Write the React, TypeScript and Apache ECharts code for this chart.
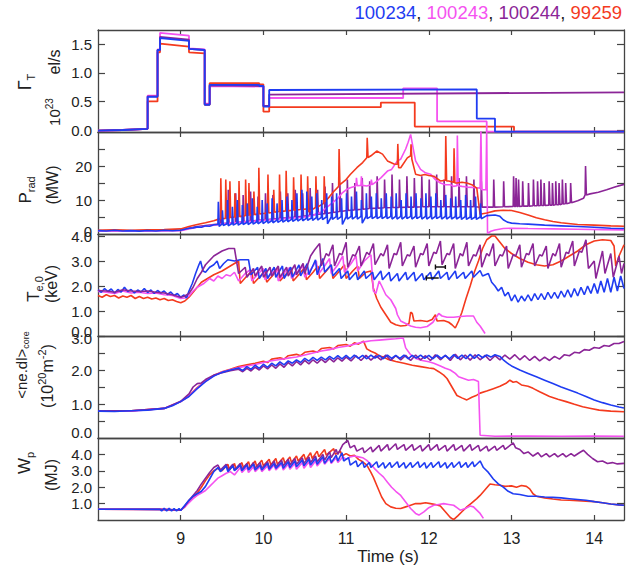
import React, { useEffect, useRef } from "react";
import * as echarts from "echarts";

type P = [number, number];

const FONT = "Liberation Sans, Arial, Helvetica, sans-serif";
const BLUE = "#1f3cf2";
const MAGENTA = "#f552f0";
const PURPLE = "#8b2597";
const RED = "#f43a1e";

const shotLabels = ["100234", "100243", "100244", "99259"];
const xTickValues = [9, 10, 11, 12, 13, 14];

// ---------- Panel 1: Gamma_T (10^23 el/s) ----------
const gammaBlue: P[] = [[8,-0.01],[8.3,0.0],[8.6,0.02],[8.6,0.58],[8.72,0.58],[8.72,1.4],[8.75,1.4],[8.75,1.61],[9.1,1.56],[9.1,1.42],[9.29,1.4],[9.29,0.44],[9.35,0.44],[9.35,0.79],[9.95,0.79],[9.95,0.77],[10.0,0.77],[10.0,0.41],[10.07,0.41],[10.07,0.7],[12.58,0.71],[12.58,0.2],[12.8,0.2],[12.8,-0.03],[14.36,-0.03]];
const gammaMagenta: P[] = [[8,-0.01],[8.3,0.0],[8.6,0.02],[8.6,0.6],[8.72,0.6],[8.72,1.41],[8.75,1.41],[8.75,1.7],[9.1,1.65],[9.1,1.43],[9.29,1.41],[9.29,0.46],[9.35,0.46],[9.35,0.77],[10.0,0.76],[10.0,0.42],[10.07,0.42],[10.07,0.56],[11.69,0.56],[11.69,0.73],[12.1,0.73],[12.1,0.15],[12.7,0.15],[12.7,-0.03],[14.36,-0.03]];
const gammaPurple: P[] = [[8,-0.01],[8.3,0.0],[8.6,0.02],[8.6,0.59],[8.72,0.59],[8.72,1.4],[8.75,1.4],[8.75,1.63],[9.1,1.58],[9.1,1.42],[9.29,1.4],[9.29,0.45],[9.35,0.45],[9.35,0.78],[10.0,0.77],[10.0,0.42],[10.07,0.42],[10.07,0.62],[14.36,0.66]];
const gammaRed: P[] = [[8,-0.01],[8.3,0.0],[8.6,0.02],[8.6,0.5],[8.72,0.5],[8.72,1.36],[8.75,1.36],[8.75,1.51],[9.1,1.46],[9.1,1.36],[9.29,1.34],[9.29,0.44],[9.35,0.44],[9.35,0.82],[9.95,0.82],[9.95,0.8],[10.0,0.8],[10.0,0.32],[10.07,0.32],[10.07,0.4],[11.42,0.4],[11.42,0.48],[11.83,0.48],[11.83,0.06],[13.03,0.06],[13.03,-0.03],[14.36,-0.03]];

// ---------- Panel 2: P_rad (MW) ----------
const pradBlue: P[] = [[8.0,1.0],[8.1,0.9],[8.2,1.1],[8.3,0.9],[8.4,1.0],[8.5,0.85],[8.6,1.05],[8.7,0.9],[8.8,1.1],[8.9,0.95],[9.0,1.1],[9.05,1.4],[9.1,1.7],[9.15,1.8],[9.2,2.1],[9.25,2.0],[9.3,2.4],[9.35,2.3],[9.4,2.7],
[9.45,2.8],[9.455,9.5],[9.465,2.2],[9.5,3.0],[9.505,7.0],[9.515,2.5],[9.56,3.0],[9.565,10],[9.575,2.4],[9.62,3.1],[9.625,8],[9.635,2.6],[9.68,3.2],[9.685,10],[9.695,2.6],[9.74,3.3],[9.745,8.5],[9.755,2.8],[9.8,3.4],[9.805,9],[9.815,2.8],[9.86,3.5],[9.865,10.5],[9.875,2.9],[9.92,3.6],[9.925,8],[9.935,3.0],[9.98,3.7],[9.985,10],[9.995,3.1],
[10.04,3.8],[10.045,9],[10.055,3.2],[10.1,3.9],[10.105,10.5],[10.115,3.3],[10.16,4.0],[10.165,9],[10.175,3.4],[10.22,4.1],[10.225,10],[10.235,3.5],[10.28,4.2],[10.285,11],[10.295,3.6],[10.34,4.3],[10.345,10],[10.355,3.7],[10.4,4.4],[10.405,12],[10.415,3.8],[10.46,4.5],[10.465,13],[10.475,3.9],[10.52,4.6],[10.525,12.5],[10.535,4.0],[10.58,4.7],[10.585,11],[10.595,4.0],[10.64,4.8],[10.645,12],[10.655,4.1],[10.7,4.9],[10.705,10],[10.715,4.2],[10.76,5.0],[10.765,12],[10.775,3.0],[10.82,5.0],[10.825,11],[10.835,4.3],[10.88,5.1],[10.885,12],[10.895,4.3],[10.94,5.1],[10.945,10.5],[10.955,2.8],
[11.0,5.1],[11.005,12],[11.015,4.4],[11.06,5.2],[11.065,11],[11.075,4.4],[11.12,5.2],[11.125,12.5],[11.135,4.4],[11.18,5.2],[11.185,10],[11.195,3.2],[11.24,5.2],[11.245,12],[11.255,4.5],[11.3,5.2],[11.305,11],[11.315,4.5],[11.36,5.2],[11.365,12],[11.375,4.5],[11.42,5.2],[11.425,10.5],[11.435,4.5],[11.48,5.2],[11.485,12],[11.495,4.5],[11.54,5.2],[11.545,11],[11.555,4.4],[11.6,5.2],[11.605,12],[11.615,4.4],[11.66,5.2],[11.665,10],[11.675,4.4],[11.72,5.2],[11.725,12],[11.735,4.5],[11.78,5.2],[11.785,11],[11.795,4.4],[11.84,5.2],[11.845,12],[11.855,4.5],[11.9,5.2],[11.905,10.5],[11.915,4.4],[11.96,5.2],[11.965,12],[11.975,4.4],
[12.02,5.2],[12.025,11],[12.035,4.4],[12.08,5.2],[12.085,12],[12.095,4.5],[12.14,5.2],[12.145,10],[12.155,4.4],[12.2,5.2],[12.205,11.5],[12.215,4.4],[12.26,5.2],[12.265,10.5],[12.275,4.4],[12.32,5.1],[12.325,11],[12.335,4.4],[12.38,5.1],[12.385,10],[12.395,4.3],[12.44,5.1],[12.445,11.5],[12.455,4.3],[12.5,5.0],[12.505,10],[12.515,4.3],[12.56,5.0],[12.565,11],[12.575,4.3],[12.62,5.0],[12.625,9],[12.635,4.5],
[12.7,5.4],[12.8,5.6],[12.86,5.2],[12.9,4.2],[12.95,3.5],[13.0,3.2],[13.1,3.0],[13.2,2.9],[13.4,2.6],[13.6,2.4],[13.8,2.2],[14.0,2.0],[14.2,1.7],[14.36,1.6]];

const pradPurple: P[] = [[8.0,1.0],[8.2,1.0],[8.4,0.95],[8.6,1.0],[8.8,1.05],[9.0,1.1],[9.1,1.7],[9.2,2.2],[9.3,2.5],[9.4,2.8],
[9.48,3.0],[9.485,11],[9.495,3.0],[9.57,3.2],[9.575,13],[9.585,3.2],[9.66,3.4],[9.665,12],[9.675,3.4],[9.75,3.6],[9.755,11.5],[9.765,3.6],[9.84,3.8],[9.845,12.5],[9.855,3.8],[9.93,4.0],[9.935,11],[9.945,4.0],[10.02,4.2],[10.025,12],[10.035,4.2],[10.11,4.4],[10.115,11.5],[10.125,4.4],[10.2,4.6],[10.205,12.5],[10.215,4.6],[10.29,4.8],[10.295,12],[10.305,4.8],[10.38,5.0],[10.385,13],[10.395,5.0],[10.47,5.2],[10.475,12],[10.485,5.2],[10.56,5.5],[10.565,13.5],[10.575,5.5],[10.65,5.8],[10.655,13],[10.665,5.8],[10.74,6.0],[10.745,14],[10.755,6.0],[10.83,6.3],[10.835,15],[10.845,6.3],[10.92,6.6],[10.925,14.5],[10.935,6.6],
[11.01,6.9],[11.015,16],[11.025,6.9],[11.1,7.1],[11.105,15],[11.115,7.1],[11.19,7.3],[11.195,16.5],[11.205,7.3],[11.28,7.5],[11.285,15.5],[11.295,7.5],[11.37,7.6],[11.375,17],[11.385,7.6],[11.46,7.7],[11.465,16],[11.475,7.7],[11.55,7.8],[11.555,17.5],[11.565,7.8],[11.64,7.8],[11.645,16],[11.655,7.8],[11.73,7.9],[11.735,17],[11.745,7.9],[11.82,7.9],[11.825,16.5],[11.835,7.9],[11.91,8.0],[11.915,17],[11.925,8.0],
[12.0,8.0],[12.005,16],[12.015,8.0],[12.09,8.0],[12.095,17.5],[12.105,8.0],[12.18,8.0],[12.185,16],[12.195,8.0],[12.27,8.0],[12.275,17],[12.285,8.0],[12.36,8.0],[12.365,16.5],[12.375,8.0],[12.45,8.0],[12.455,17],[12.465,8.0],[12.54,8.0],[12.545,16],[12.555,8.0],[12.63,7.9],[12.635,15.5],[12.645,7.9],[12.78,7.9],[12.785,16],[12.795,7.9],[12.9,8.0],[12.905,15.5],[12.915,8.0],
[13.02,8.1],[13.025,17],[13.035,8.1],[13.05,8.1],[13.055,16.5],[13.065,8.1],[13.08,8.1],[13.085,16],[13.095,8.1],[13.13,8.2],[13.135,15.5],[13.145,8.2],[13.2,8.2],[13.205,15],[13.215,8.2],[13.26,8.3],[13.265,16],[13.275,8.3],[13.31,8.3],[13.315,15.5],[13.325,8.3],[13.35,8.4],[13.355,16],[13.365,8.4],[13.39,8.4],[13.395,15],[13.405,8.4],[13.45,8.5],[13.455,15.5],[13.465,8.5],[13.49,8.5],[13.495,15],[13.505,8.5],[13.53,8.6],[13.535,15.5],[13.545,8.6],[13.57,8.6],[13.575,15],[13.585,8.6],[13.61,8.8],[13.615,16],[13.625,8.8],[13.65,8.9],[13.655,15],[13.665,8.9],[13.71,9.2],[13.715,15],[13.725,9.2],
[13.8,9.8],[13.87,10.5],[13.89,11.5],[13.895,20],[13.905,11.5],[13.95,11.8],[14.05,12.3],[14.15,13.0],[14.25,13.8],[14.36,14.6]];

const pradRed: P[] = [[8.0,1.1],[8.2,1.2],[8.4,1.1],[8.6,1.2],[8.8,1.3],[9.0,1.5],[9.1,2.2],[9.2,2.8],[9.3,3.3],[9.4,3.9],[9.45,4.3],
[9.48,4.5],[9.485,16.4],[9.495,4.5],[9.54,4.6],[9.545,16],[9.555,4.6],[9.59,4.8],[9.595,15.5],[9.605,4.8],[9.65,5.0],[9.655,12],[9.665,5.0],[9.7,5.1],[9.705,15.6],[9.715,5.1],[9.78,5.4],[9.785,16],[9.795,5.4],[9.82,5.5],[9.825,15],[9.835,5.5],[9.88,5.7],[9.885,12.5],[9.895,5.7],[9.94,5.9],[9.945,19.5],[9.955,5.9],
[10.05,6.2],[10.055,17.5],[10.065,6.2],[10.12,6.4],[10.125,13],[10.135,6.4],[10.19,6.6],[10.195,17.5],[10.205,6.6],[10.27,6.8],[10.275,18.6],[10.285,6.8],[10.36,7.0],[10.365,16.7],[10.375,7.0],[10.45,7.2],[10.455,17.5],[10.465,7.2],[10.53,7.4],[10.535,17],[10.545,6.5],[10.63,7.8],[10.635,17],[10.645,7.8],[10.73,9.0],[10.735,17],[10.745,9.5],[10.8,11],[10.85,12.5],[10.91,14],[10.915,25],[10.925,14.5],
[11.0,16],[11.05,17.5],[11.13,19.5],[11.2,21],[11.25,22.4],[11.255,28.3],[11.265,22.5],[11.3,23],[11.37,24.4],[11.44,23.5],[11.5,21.5],[11.58,20.6],[11.62,20.5],[11.625,26.5],[11.635,19.5],[11.66,19.5],[11.74,22.4],[11.78,23],[11.785,26.4],[11.795,22],[11.84,17.6],[11.9,17.2],[11.95,17.5],
[12.0,17.2],[12.06,17],[12.14,15.6],[12.2,15.8],[12.205,28.8],[12.215,15.6],[12.24,15.6],[12.3,15.2],[12.305,25.2],[12.315,15],[12.34,15],[12.4,15.2],[12.46,15],[12.52,14.5],[12.58,13.5],[12.62,5.8],[12.7,6.2],[12.8,6.8],[12.9,7.0],[13.0,6.9],[13.1,6.3],[13.2,5.6],[13.3,4.8],[13.4,4.2],[13.5,3.7],[13.6,3.3],[13.8,2.8],[14.0,2.6],[14.2,2.4],[14.36,2.3]];

const pradMagenta: P[] = [[8.0,0.9],[8.3,0.95],[8.6,0.9],[9.0,1.0],[9.1,1.5],[9.2,2.0],[9.3,2.3],[9.4,2.6],[9.5,2.9],[9.6,3.2],[9.7,3.4],[9.8,3.6],[9.9,3.8],[10.0,4.0],[10.1,4.2],[10.2,4.4],[10.3,4.6],[10.4,4.8],[10.5,5.0],[10.6,5.5],[10.7,6.5],[10.8,8.5],[10.9,10.5],[10.95,12],[11.0,13],[11.05,13.6],[11.1,14],[11.12,14.2],[11.125,16.5],[11.135,14.2],[11.18,14.3],[11.185,17],[11.195,14.3],[11.25,14.1],[11.3,14.5],[11.305,16],[11.315,14.5],[11.37,15.5],[11.42,16.5],[11.5,18.5],[11.55,19],[11.62,21.5],[11.66,22],[11.72,25],[11.75,27],[11.78,29.3],[11.82,24],[11.84,21.5],[11.9,19],[11.96,18],
[12.02,17.6],[12.08,16],[12.14,15],[12.2,14.5],[12.26,14.5],[12.3,14],[12.34,14.2],[12.345,29],[12.355,14.2],[12.4,14],[12.46,13.8],[12.52,13.7],[12.58,13.6],[12.62,13.5],[12.63,31],[12.64,13],[12.69,13],[12.7,31],[12.71,0.2],[12.75,0.8],[12.8,1.2],[12.9,1.6],[13.0,1.7],[13.2,1.6],[13.5,1.5],[13.8,1.4],[14.1,1.3],[14.36,1.2]];

// ---------- Panel 3: T_e,0 (keV) ----------
const teBlue: P[] = [[8.0,1.85],[8.04,1.75],[8.08,1.9],[8.12,1.78],[8.16,1.88],[8.2,1.72],[8.24,1.86],[8.28,1.76],[8.32,1.95],[8.36,1.78],[8.4,1.86],[8.44,1.72],[8.48,1.84],[8.52,1.76],[8.56,1.9],[8.6,1.74],[8.64,1.84],[8.68,1.7],[8.72,1.82],[8.76,1.72],[8.8,1.8],[8.84,1.66],[8.88,1.76],[8.92,1.62],[8.96,1.7],[9.0,1.55],[9.04,1.64],[9.07,1.52],[9.1,1.8],[9.14,2.1],[9.18,2.5],[9.22,2.85],[9.24,3.0],[9.27,2.6],[9.3,2.55],[9.35,2.75],[9.4,2.85],[9.44,3.0],[9.47,2.7],[9.52,2.9],[9.57,3.05],[9.65,3.0],[9.72,3.05],[9.82,3.05],[9.85,2.45],
[9.93,2.75],[9.95,2.3],[10.03,2.7],[10.05,2.3],[10.13,2.75],[10.15,2.35],[10.23,2.8],[10.25,2.3],[10.33,2.75],[10.35,2.35],[10.43,2.85],[10.45,2.4],[10.53,2.9],[10.55,2.45],[10.63,3.05],[10.65,2.45],[10.72,3.1],[10.74,2.55],[10.82,2.85],[10.84,2.4],[10.92,2.7],[10.94,2.3],
[11.02,2.6],[11.04,2.25],[11.12,2.55],[11.14,2.25],[11.22,2.6],[11.24,2.3],[11.32,2.55],[11.34,2.25],[11.42,2.6],[11.44,2.25],[11.52,2.55],[11.54,2.2],[11.62,2.5],[11.64,2.2],[11.72,2.55],[11.74,2.25],[11.82,2.55],[11.84,2.2],[11.92,2.5],[11.94,2.25],[12.02,2.55],[12.04,2.25],[12.12,2.6],[12.14,2.3],[12.22,2.55],[12.24,2.25],[12.32,2.6],[12.34,2.3],[12.42,2.55],[12.44,2.3],[12.52,2.6],[12.54,2.35],[12.62,2.62],[12.65,2.4],
[12.72,2.5],[12.76,2.15],[12.8,2.0],[12.84,1.8],[12.88,1.95],[12.92,1.6],[12.96,1.75],[13.0,1.4],[13.04,1.65],[13.08,1.35],[13.12,1.6],[13.16,1.4],[13.2,1.65],[13.24,1.4],[13.28,1.7],[13.32,1.45],[13.36,1.7],[13.4,1.45],[13.44,1.75],[13.48,1.5],[13.52,1.75],[13.56,1.5],[13.6,1.8],[13.64,1.55],[13.68,1.85],[13.72,1.55],[13.76,1.9],[13.8,1.6],[13.84,1.95],[13.88,1.65],[13.92,2.0],[13.96,1.7],[14.0,2.1],[14.04,1.7],[14.08,2.2],[14.12,1.75],[14.16,2.3],[14.2,1.75],[14.24,2.35],[14.28,1.8],[14.32,2.4],[14.36,1.9]];

const tePurple: P[] = [[8.0,1.82],[8.1,1.8],[8.2,1.75],[8.3,1.85],[8.4,1.8],[8.5,1.78],[8.6,1.8],[8.7,1.75],[8.8,1.72],[8.9,1.65],[9.0,1.55],[9.05,1.6],[9.1,1.7],[9.15,1.95],[9.2,2.3],[9.25,2.55],[9.3,2.85],[9.4,3.2],[9.5,3.4],[9.58,3.5],[9.65,3.5],[9.7,2.5],
[9.78,2.75],[9.8,2.35],[9.88,2.7],[9.9,2.4],[9.98,2.8],[10.0,2.35],[10.08,2.75],[10.1,2.4],[10.18,2.8],[10.2,2.35],[10.28,2.75],[10.3,2.4],[10.38,2.85],[10.4,2.45],[10.48,2.9],[10.5,2.5],[10.57,3.2],[10.62,3.45],[10.68,3.7],[10.7,2.8],
[10.76,3.3],[10.79,3.2],[10.84,3.65],[10.86,2.8],[10.92,3.3],[10.95,3.25],[11.0,3.75],[11.02,2.75],[11.08,3.25],[11.11,3.2],[11.16,3.6],[11.18,2.8],[11.25,3.35],[11.28,3.25],[11.33,3.7],[11.35,2.85],[11.42,3.3],[11.45,3.2],[11.5,3.65],[11.52,2.7],[11.58,3.3],[11.61,3.25],[11.66,3.75],[11.68,2.8],[11.74,3.25],[11.77,3.2],[11.82,3.6],[11.84,2.75],[11.9,3.3],[11.93,3.25],[11.98,3.7],[12.0,2.8],[12.06,3.35],[12.09,3.3],[12.14,3.8],[12.16,2.85],[12.22,3.3],[12.25,3.25],[12.3,3.7],[12.32,2.7],[12.38,3.3],[12.41,3.2],[12.46,3.75],[12.48,2.8],[12.54,3.25],[12.57,3.2],[12.62,3.65],[12.64,2.75],[12.7,3.3],[12.73,3.2],[12.78,3.7],[12.8,2.8],[12.86,3.25],[12.89,3.2],[12.94,3.6],[12.96,2.7],[13.02,3.25],[13.05,3.2],[13.1,3.65],[13.12,2.75],[13.18,3.3],[13.21,3.25],[13.26,3.7],[13.28,2.8],[13.34,3.25],[13.37,3.2],[13.42,3.6],[13.44,2.7],[13.5,3.3],[13.53,3.2],[13.58,3.7],[13.6,2.75],[13.66,3.35],[13.69,3.3],[13.74,3.8],[13.76,2.8],[13.82,3.4],[13.85,3.35],[13.9,3.85],[13.93,2.7],
[14.0,3.0],[14.02,2.3],[14.1,3.4],[14.13,2.5],[14.2,3.3],[14.23,2.35],[14.3,3.2],[14.33,2.5],[14.36,2.9]];

const teRed: P[] = [[8.0,1.62],[8.05,1.55],[8.1,1.65],[8.15,1.58],[8.2,1.62],[8.25,1.52],[8.3,1.6],[8.35,1.55],[8.4,1.62],[8.45,1.5],[8.5,1.58],[8.55,1.5],[8.6,1.55],[8.65,1.48],[8.7,1.52],[8.75,1.45],[8.8,1.5],[8.85,1.42],[8.9,1.45],[8.95,1.38],[9.0,1.33],[9.05,1.4],[9.1,1.55],[9.15,1.75],[9.2,1.95],[9.25,2.15],[9.3,2.25],[9.4,2.45],[9.5,2.6],[9.6,2.8],[9.7,3.0],[9.72,2.1],
[9.8,2.4],[9.86,2.6],[9.88,2.1],[9.95,2.35],[10.02,2.6],[10.04,2.15],[10.12,2.45],[10.18,2.7],[10.2,2.2],[10.28,2.5],[10.34,2.7],[10.36,2.2],[10.44,2.5],[10.5,2.75],[10.52,2.25],[10.6,2.55],[10.66,2.8],[10.68,2.3],[10.76,2.6],[10.82,2.85],[10.84,2.3],[10.92,2.6],[10.98,2.85],[11.0,2.3],[11.08,2.6],[11.14,2.8],[11.16,2.3],[11.24,2.55],[11.3,2.6],
[11.33,1.9],[11.37,1.5],[11.42,1.15],[11.47,0.9],[11.54,0.55],[11.6,0.45],[11.66,0.4],[11.72,0.42],[11.76,0.5],[11.78,0.95],[11.8,0.9],[11.82,0.6],[11.9,0.62],[11.98,0.58],[12.04,0.66],[12.08,0.85],[12.1,0.6],[12.18,0.62],[12.24,0.55],[12.28,0.45],[12.32,0.32],[12.36,0.6],[12.4,0.95],[12.45,1.5],[12.5,2.0],[12.55,2.55],[12.6,3.0],[12.65,3.5],[12.7,3.85],[12.76,4.0],[12.8,4.0],[12.86,3.75],[12.92,3.5],[13.0,3.3],[13.1,3.1],[13.2,2.95],[13.3,2.85],[13.4,2.8],[13.5,2.85],[13.6,3.0],[13.7,3.2],[13.8,3.4],[13.9,3.65],[14.0,3.8],[14.1,3.85],[14.2,3.82],[14.24,3.6],[14.26,2.8],[14.3,3.2],[14.36,3.65]];

const teMagenta: P[] = [[8.0,1.78],[8.1,1.75],[8.2,1.7],[8.3,1.8],[8.4,1.72],[8.5,1.75],[8.6,1.7],[8.7,1.72],[8.8,1.65],[8.9,1.62],[9.0,1.5],[9.05,1.52],[9.1,1.6],[9.15,1.8],[9.2,1.95],[9.28,2.1],[9.35,2.3],[9.4,2.2],[9.45,2.4],[9.5,2.3],[9.55,2.45],[9.6,2.4],[9.65,2.55],[9.7,2.2],
[9.78,2.5],[9.84,2.65],[9.86,2.2],[9.94,2.5],[10.0,2.7],[10.02,2.25],[10.1,2.5],[10.16,2.7],[10.18,2.2],[10.26,2.55],[10.32,2.75],[10.34,2.3],[10.42,2.6],[10.48,2.8],[10.5,2.35],[10.58,2.7],[10.64,3.0],[10.66,2.45],[10.74,2.8],[10.8,3.1],[10.82,2.5],[10.9,2.85],[10.96,3.2],[10.98,2.55],[11.06,2.9],[11.12,3.2],[11.14,2.6],[11.22,3.0],[11.3,3.25],
[11.33,1.8],[11.36,1.7],[11.4,2.2],[11.43,2.0],[11.48,1.65],[11.54,1.45],[11.6,1.1],[11.62,0.85],[11.66,0.6],[11.72,0.5],[11.78,0.4],[11.84,0.35],[11.9,0.33],[11.98,0.38],[12.05,0.55],[12.12,0.9],[12.16,0.8],[12.22,0.75],[12.3,0.75],[12.38,0.78],[12.46,0.8],[12.54,0.8],[12.58,0.55],[12.62,0.4],[12.66,0.2],[12.68,0.1]];

// small black Thomson marks
const teMarkSegments: P[][] = [
  [[11.97,2.22],[11.97,2.42]],
  [[11.97,2.32],[12.12,2.32]],
  [[12.08,2.66],[12.08,2.86]],
  [[12.08,2.76],[12.2,2.76]],
  [[12.2,2.68],[12.2,2.84]],
];

// ---------- Panel 4: <ne.dl>_core (10^20 m^-2) ----------
const neBlue: P[] = [[8.0,0.79],[8.2,0.78],[8.4,0.8],[8.6,0.82],[8.8,0.87],[8.9,0.95],[9.0,1.07],[9.1,1.22],[9.2,1.45],[9.3,1.66],[9.4,1.82],[9.5,1.93],[9.6,2.0],[9.7,2.06],[9.75,1.98],[9.8,2.1],[9.85,2.02],[9.9,2.14],[9.95,2.05],[10.0,2.17],[10.05,2.08],[10.1,2.2],[10.15,2.12],[10.2,2.24],[10.25,2.15],[10.3,2.27],[10.35,2.2],[10.4,2.3],[10.45,2.22],[10.5,2.34],[10.55,2.26],[10.6,2.37],[10.65,2.28],[10.7,2.38],[10.75,2.3],[10.8,2.4],[10.85,2.32],[10.9,2.42],[10.95,2.33],[11.0,2.43],
[11.05,2.33],[11.1,2.44],[11.15,2.34],[11.2,2.43],[11.25,2.33],[11.3,2.44],[11.35,2.35],[11.4,2.43],[11.45,2.33],[11.5,2.44],[11.55,2.34],[11.6,2.43],[11.65,2.34],[11.7,2.44],[11.75,2.33],[11.8,2.43],[11.85,2.35],[11.9,2.44],[11.95,2.34],[12.0,2.43],[12.05,2.33],[12.1,2.44],[12.15,2.34],[12.2,2.43],[12.25,2.33],[12.3,2.45],[12.35,2.34],[12.4,2.44],[12.45,2.33],[12.5,2.46],[12.55,2.34],[12.6,2.45],[12.65,2.36],[12.7,2.44],[12.75,2.38],[12.8,2.45],[12.86,2.4],
[12.9,2.3],[12.95,2.2],[13.0,2.12],[13.1,2.0],[13.2,1.9],[13.3,1.8],[13.4,1.7],[13.5,1.6],[13.6,1.5],[13.7,1.41],[13.8,1.32],[13.9,1.22],[14.0,1.12],[14.1,1.04],[14.2,0.97],[14.3,0.91],[14.36,0.88]];

const nePurple: P[] = [[8.0,0.8],[8.4,0.8],[8.8,0.87],[9.0,1.08],[9.1,1.3],[9.15,1.5],[9.2,1.6],[9.25,1.62],[9.3,1.72],[9.4,1.85],[9.5,1.92],[9.6,1.98],[9.7,2.02],[9.75,1.95],[9.8,2.05],[9.85,1.97],[9.9,2.08],[9.95,2.0],[10.0,2.12],[10.05,2.03],[10.1,2.15],[10.15,2.05],[10.2,2.18],[10.25,2.08],[10.3,2.22],[10.35,2.12],[10.4,2.25],[10.45,2.15],[10.5,2.28],[10.55,2.18],[10.6,2.3],[10.65,2.2],[10.7,2.32],[10.75,2.22],[10.8,2.34],[10.85,2.24],[10.9,2.36],[10.95,2.26],[11.0,2.38],
[11.06,2.27],[11.12,2.42],[11.18,2.28],[11.24,2.43],[11.3,2.29],[11.36,2.42],[11.42,2.3],[11.48,2.44],[11.54,2.28],[11.6,2.42],[11.66,2.3],[11.72,2.43],[11.78,2.28],[11.84,2.44],[11.9,2.3],[11.96,2.42],[12.02,2.28],[12.08,2.45],[12.14,2.3],[12.2,2.43],[12.26,2.28],[12.32,2.46],[12.38,2.3],[12.44,2.44],[12.5,2.29],[12.56,2.45],[12.62,2.3],[12.68,2.43],[12.74,2.28],[12.8,2.42],[12.86,2.3],[12.92,2.44],[12.98,2.32],[13.04,2.45],[13.1,2.3],[13.16,2.42],[13.22,2.28],[13.28,2.4],[13.34,2.27],[13.4,2.38],[13.46,2.28],[13.52,2.4],[13.58,2.32],[13.64,2.45],[13.7,2.42],[13.76,2.52],[13.82,2.5],[13.88,2.6],[13.94,2.58],[14.0,2.66],[14.06,2.64],[14.12,2.72],[14.18,2.7],[14.24,2.78],[14.3,2.78],[14.36,2.84]];

const neRed: P[] = [[8.0,0.79],[8.4,0.8],[8.8,0.87],[9.0,1.07],[9.1,1.24],[9.2,1.48],[9.3,1.68],[9.4,1.84],[9.5,1.95],[9.6,2.02],[9.7,2.1],[9.8,2.15],[9.9,2.2],[10.0,2.26],[10.05,2.22],[10.1,2.32],[10.2,2.36],[10.25,2.32],[10.3,2.42],[10.4,2.46],[10.45,2.42],[10.5,2.52],[10.6,2.56],[10.65,2.52],[10.7,2.63],[10.8,2.66],[10.85,2.62],[10.9,2.72],[11.0,2.75],[11.05,2.7],[11.1,2.8],[11.15,2.76],[11.21,2.85],
[11.25,2.62],[11.3,2.55],[11.35,2.5],[11.4,2.42],[11.45,2.38],[11.5,2.32],[11.6,2.25],[11.7,2.2],[11.8,2.14],[11.9,2.1],[12.0,2.06],[12.06,2.04],[12.12,1.95],[12.18,1.85],[12.22,1.75],[12.28,1.5],[12.34,1.25],[12.4,1.18],[12.46,1.12],[12.52,1.2],[12.58,1.26],[12.62,1.32],[12.7,1.38],[12.78,1.45],[12.86,1.52],[12.94,1.62],[12.98,1.7],[13.02,1.64],[13.06,1.66],[13.12,1.56],[13.2,1.52],[13.26,1.46],[13.34,1.36],[13.46,1.22],[13.56,1.14],[13.66,1.07],[13.76,0.99],[13.86,0.92],[13.96,0.87],[14.06,0.82],[14.2,0.79],[14.36,0.77]];

const neMagenta: P[] = [[8.0,0.79],[8.4,0.79],[8.8,0.87],[9.0,1.07],[9.1,1.23],[9.2,1.47],[9.3,1.67],[9.4,1.83],[9.5,1.94],[9.6,2.01],[9.7,2.07],[9.8,2.12],[9.9,2.16],[10.0,2.22],[10.1,2.27],[10.2,2.31],[10.3,2.35],[10.4,2.38],[10.5,2.44],[10.6,2.5],[10.7,2.56],[10.8,2.6],[10.9,2.66],[11.0,2.7],[11.1,2.76],[11.2,2.82],[11.3,2.86],[11.4,2.88],[11.5,2.9],[11.6,2.92],[11.69,2.94],
[11.72,2.65],[11.78,2.45],[11.85,2.33],[11.92,2.28],[12.0,2.24],[12.06,2.2],[12.14,2.12],[12.2,2.05],[12.26,2.0],[12.32,1.9],[12.36,1.8],[12.42,1.75],[12.48,1.7],[12.54,1.72],[12.6,1.66],[12.62,0.08],[12.8,0.05],[13.2,0.06],[13.6,0.05],[14.0,0.06],[14.36,0.05]];

// ---------- Panel 5: W_p (MJ) ----------
const wpBlue: P[] = [[8.0,0.66],[8.4,0.66],[8.75,0.65],[8.77,0.55],[8.8,0.72],[8.83,0.55],[8.86,0.72],[8.89,0.55],[8.92,0.7],[8.95,0.55],[8.98,0.7],[9.0,0.58],[9.05,0.9],[9.1,1.2],[9.15,1.45],[9.2,1.6],[9.25,1.75],[9.3,2.05],[9.35,2.5],[9.4,2.95],[9.45,3.2],[9.48,2.95],
[9.55,3.3],[9.57,2.95],[9.63,3.3],[9.65,3.0],[9.72,3.35],[9.74,3.0],[9.8,3.35],[9.82,3.05],[9.88,3.4],[9.9,3.05],[9.96,3.35],[9.98,3.05],[10.05,3.45],[10.07,3.1],[10.13,3.45],[10.15,3.15],[10.22,3.5],[10.24,3.15],[10.3,3.55],[10.32,3.2],[10.38,3.6],[10.4,3.25],[10.47,3.65],[10.49,3.3],[10.55,3.7],[10.57,3.35],[10.63,3.75],[10.65,3.4],[10.72,3.85],[10.74,3.45],[10.8,3.9],[10.82,3.5],[10.88,3.95],[10.9,3.6],[10.95,4.1],[10.97,3.6],
[11.03,3.8],[11.05,3.35],[11.12,3.6],[11.14,3.25],[11.2,3.55],[11.22,3.2],[11.28,3.5],[11.3,3.2],[11.37,3.55],[11.39,3.2],[11.45,3.5],[11.47,3.15],[11.53,3.5],[11.55,3.2],[11.62,3.55],[11.64,3.2],[11.7,3.5],[11.72,3.15],[11.78,3.5],[11.8,3.2],[11.87,3.55],[11.89,3.2],[11.95,3.5],[11.97,3.15],[12.03,3.5],[12.05,3.2],[12.12,3.55],[12.14,3.2],[12.2,3.5],[12.22,3.15],[12.28,3.5],[12.3,3.2],[12.37,3.55],[12.39,3.2],[12.45,3.5],[12.47,3.2],[12.53,3.55],[12.55,3.25],[12.62,3.6],[12.66,3.2],
[12.72,2.9],[12.78,2.5],[12.84,2.2],[12.9,2.0],[12.96,1.75],[13.02,1.6],[13.1,1.55],[13.2,1.45],[13.3,1.45],[13.4,1.4],[13.5,1.38],[13.6,1.35],[13.7,1.3],[13.8,1.25],[13.9,1.2],[14.0,1.12],[14.1,1.05],[14.2,0.98],[14.3,0.92],[14.36,0.9]];

const wpPurple: P[] = [[8.0,0.66],[8.75,0.65],[9.0,0.6],[9.05,0.85],[9.1,1.2],[9.15,1.5],[9.2,1.8],[9.25,2.2],[9.3,2.55],[9.35,2.9],[9.4,3.2],[9.45,3.35],[9.48,3.05],
[9.55,3.4],[9.57,3.05],[9.63,3.4],[9.65,3.05],[9.72,3.45],[9.74,3.1],[9.8,3.45],[9.82,3.1],[9.88,3.5],[9.9,3.15],[9.96,3.5],[9.98,3.15],[10.05,3.55],[10.07,3.2],[10.13,3.6],[10.15,3.25],[10.22,3.65],[10.24,3.3],[10.3,3.7],[10.32,3.35],[10.38,3.75],[10.4,3.4],[10.47,3.8],[10.49,3.45],[10.55,3.85],[10.57,3.5],[10.63,3.9],[10.65,3.55],[10.72,4.0],[10.74,3.65],[10.8,4.15],[10.82,3.8],[10.88,4.3],[10.9,4.0],[10.96,4.6],[11.02,4.85],[11.05,4.4],[11.1,4.55],[11.13,4.2],
[11.2,4.4],[11.22,4.1],[11.3,4.45],[11.32,4.15],[11.4,4.55],[11.42,4.2],[11.5,4.6],[11.52,4.25],[11.6,4.65],[11.62,4.3],[11.7,4.6],[11.72,4.25],[11.8,4.6],[11.82,4.25],[11.9,4.55],[11.92,4.2],[12.0,4.6],[12.02,4.25],[12.1,4.6],[12.12,4.25],[12.2,4.55],[12.22,4.2],[12.3,4.6],[12.32,4.25],[12.4,4.55],[12.42,4.2],[12.5,4.6],[12.52,4.25],[12.6,4.55],[12.62,4.2],[12.7,4.5],[12.72,4.2],[12.8,4.5],[12.82,4.25],[12.9,4.55],[12.92,4.3],[13.02,4.7],[13.05,4.4],
[13.1,4.3],[13.15,4.05],[13.2,4.15],[13.26,3.9],[13.32,4.1],[13.36,3.85],[13.42,4.05],[13.46,3.85],[13.52,4.05],[13.56,3.85],[13.62,4.05],[13.66,3.85],[13.72,4.05],[13.76,3.9],[13.82,4.1],[13.87,4.25],[13.92,4.0],[13.98,3.75],[14.04,3.55],[14.1,3.6],[14.16,3.45],[14.22,3.5],[14.28,3.42],[14.36,3.45]];

const wpRed: P[] = [[8.0,0.66],[8.75,0.65],[9.0,0.6],[9.05,0.8],[9.1,1.15],[9.15,1.4],[9.2,1.65],[9.25,2.0],[9.3,2.4],[9.35,2.75],[9.4,3.0],[9.45,3.15],[9.5,3.0],
[9.57,3.4],[9.59,3.05],[9.65,3.45],[9.67,3.1],[9.74,3.5],[9.76,3.15],[9.82,3.55],[9.84,3.2],[9.9,3.6],[9.92,3.25],[9.98,3.65],[10.0,3.3],[10.07,3.7],[10.09,3.35],[10.15,3.75],[10.17,3.4],[10.24,3.8],[10.26,3.45],[10.32,3.85],[10.34,3.5],[10.4,3.9],[10.42,3.6],[10.49,4.0],[10.51,3.65],[10.57,4.1],[10.59,3.75],[10.65,4.2],[10.67,3.85],[10.74,4.3],[10.76,3.95],[10.85,4.35],[10.87,4.0],[10.93,4.2],[10.95,3.9],
[11.0,4.05],[11.05,3.9],[11.1,3.95],[11.15,3.7],[11.2,3.55],[11.25,3.35],[11.3,2.9],[11.33,2.6],[11.38,2.0],[11.43,1.4],[11.48,1.0],[11.54,0.8],[11.6,0.72],[11.66,0.7],[11.72,0.8],[11.78,0.9],[11.84,1.0],[11.9,1.0],[11.96,1.05],[12.02,1.0],[12.08,0.95],[12.14,0.85],[12.2,0.5],[12.26,0.15],[12.3,0.02],[12.35,0.25],[12.4,0.5],[12.46,0.8],[12.52,1.05],[12.58,1.3],[12.62,1.5],[12.68,1.85],[12.74,2.2],[12.8,2.15],[12.86,2.12],[12.92,2.05],[13.0,2.08],[13.06,2.0],[13.12,2.1],[13.18,2.05],[13.22,1.9],[13.26,1.6],[13.3,1.45],[13.4,1.35],[13.5,1.28],[13.6,1.22],[13.7,1.2],[13.8,1.18],[13.9,1.15],[14.0,1.12],[14.1,1.05],[14.2,0.98],[14.3,0.92],[14.36,0.9]];

const wpMagenta: P[] = [[8.0,0.66],[8.75,0.65],[9.0,0.6],[9.05,0.8],[9.1,1.05],[9.15,1.3],[9.2,1.5],[9.25,1.65],[9.3,1.8],[9.35,2.05],[9.4,2.3],[9.45,2.55],[9.5,2.7],[9.55,2.85],[9.6,2.95],[9.65,2.75],
[9.72,3.2],[9.74,2.9],[9.8,3.2],[9.82,2.9],[9.88,3.25],[9.9,2.95],[9.96,3.25],[9.98,2.95],[10.05,3.3],[10.07,3.0],[10.13,3.35],[10.15,3.05],[10.22,3.4],[10.24,3.05],[10.3,3.4],[10.32,3.1],[10.38,3.45],[10.4,3.1],[10.47,3.5],[10.49,3.15],[10.55,3.55],[10.57,3.2],[10.63,3.6],[10.65,3.3],[10.72,3.7],[10.74,3.4],[10.8,3.75],[10.82,3.45],[10.88,3.8],[10.9,3.5],[10.96,3.85],
[11.0,3.7],[11.05,3.85],[11.1,3.9],[11.15,3.85],[11.2,3.8],[11.25,3.64],[11.3,3.4],[11.35,3.1],[11.4,2.85],[11.45,2.63],[11.5,2.3],[11.55,2.0],[11.6,1.75],[11.66,1.5],[11.72,1.1],[11.78,0.7],[11.84,0.4],[11.88,0.3],[11.94,0.5],[12.0,0.75],[12.06,0.9],[12.12,0.95],[12.18,1.0],[12.24,0.95],[12.3,0.9],[12.34,0.75],[12.38,0.6],[12.44,0.7],[12.5,0.85],[12.54,0.8],[12.58,0.6],[12.62,0.4],[12.66,0.1]];

// ---------- Axis definitions ----------
const gammaTicks = [0, 0.5, 1, 1.5];
const pradLabels = [0, 10, 20];
const pradTicks = [5, 10, 15, 20, 25];
const teTicks = [0, 1, 2, 3, 4];
const neLabels = [0, 1, 2, 3];
const neTicks = [0.5, 1, 1.5, 2, 2.5];
const wpTicks = [1, 2, 3, 4];

export default function App() {
  const ref = useRef<HTMLDivElement>(null);

  useEffect(() => {
    if (!ref.current) return;
    const chart = echarts.init(ref.current, null, { renderer: "svg" });

    // lo/hi: pixel nudges for the labels sitting on a panel's edge (as in the original figure)
    const panels = [
      { top: 30, height: 102, min: -0.035, max: 1.75, labels: gammaTicks, ticks: gammaTicks, dec: 1, lw: 1.8, lo: 0, hi: 0,
        series: [[gammaRed, RED], [gammaMagenta, MAGENTA], [gammaPurple, PURPLE], [gammaBlue, BLUE]] },
      { top: 132, height: 102, min: 0, max: 30, labels: pradLabels, ticks: pradTicks, dec: 0, lw: 1.6, lo: 6, hi: 0,
        series: [[pradPurple, PURPLE], [pradMagenta, MAGENTA], [pradRed, RED], [pradBlue, BLUE]] },
      { top: 234, height: 102, min: 0, max: 4.08, labels: teTicks, ticks: teTicks, dec: 1, lw: 1.6, lo: 10, hi: 0,
        series: [[teRed, RED], [teMagenta, MAGENTA], [teBlue, BLUE], [tePurple, PURPLE]] },
      { top: 336, height: 102, min: 0, max: 3, labels: neLabels, ticks: neTicks, dec: 1, lw: 1.6, lo: 12, hi: 4,
        series: [[neRed, RED], [neMagenta, MAGENTA], [nePurple, PURPLE], [neBlue, BLUE]] },
      { top: 438, height: 82, min: 0, max: 5, labels: wpTicks, ticks: wpTicks, dec: 1, lw: 1.6, lo: 0, hi: 0,
        series: [[wpRed, RED], [wpMagenta, MAGENTA], [wpPurple, PURPLE], [wpBlue, BLUE]] },
    ];

    const axisLine = { show: true, onZero: false, lineStyle: { color: "#444", width: 1.3 } };
    const tickStyle = { color: "#444", width: 1.2 };
    const grid: any[] = [];
    const xAxis: any[] = [];
    const yAxis: any[] = [];
    const series: any[] = [];

    panels.forEach((p, i) => {
      const labelTop = p.labels[p.labels.length - 1];
      const labelBottom = p.labels[0];
      grid.push({ left: 98, width: 526, top: p.top, height: p.height });
      xAxis.push({
        type: "value", gridIndex: i, min: 8, max: 14.36, position: "bottom",
        axisLine, splitLine: { show: false },
        axisTick: { show: true, inside: true, length: 5, customValues: xTickValues, lineStyle: tickStyle },
        axisLabel: { show: i === panels.length - 1, customValues: xTickValues, margin: 10, fontSize: 16, color: "#222", fontFamily: FONT },
      });
      xAxis.push({
        type: "value", gridIndex: i, min: 8, max: 14.36, position: "top",
        axisLine, splitLine: { show: false },
        axisTick: { show: true, inside: true, length: 5, customValues: xTickValues, lineStyle: tickStyle },
        axisLabel: { show: false },
      });
      yAxis.push({
        type: "value", gridIndex: i, min: p.min, max: p.max, position: "left",
        axisLine, splitLine: { show: false },
        axisTick: { show: true, inside: true, length: 7, customValues: p.ticks, lineStyle: tickStyle },
        axisLabel: {
          show: true, customValues: p.labels, margin: 6, fontSize: 15, color: "#222", fontFamily: FONT,
          formatter: (v: number) => {
            const t = v.toFixed(p.dec);
            if (v === labelBottom && p.lo) return `{lo|${t}}`;
            if (v === labelTop && p.hi) return `{hi|${t}}`;
            return t;
          },
          rich: {
            lo: { fontSize: 15, color: "#222", fontFamily: FONT, padding: [0, 0, p.lo, 0] },
            hi: { fontSize: 15, color: "#222", fontFamily: FONT, padding: [p.hi, 0, 0, 0] },
          },
        },
      });
      yAxis.push({
        type: "value", gridIndex: i, min: p.min, max: p.max, position: "right",
        axisLine, splitLine: { show: false },
        axisTick: { show: true, inside: true, length: 7, customValues: p.ticks, lineStyle: tickStyle },
        axisLabel: { show: false },
      });
      p.series.forEach(([data, color]) => {
        series.push({
          type: "line", xAxisIndex: 2 * i, yAxisIndex: 2 * i, data, symbol: "none", silent: true,
          lineStyle: { color, width: p.lw }, clip: true,
        });
      });
    });

    teMarkSegments.forEach((seg) => {
      series.push({
        type: "line", xAxisIndex: 4, yAxisIndex: 4, data: seg, symbol: "none", silent: true,
        lineStyle: { color: "#111", width: 1.4 },
      });
    });

    const sub = (size: number) => ({ fontSize: size, fontFamily: FONT, fill: "#222", padding: [size, 0, 0, 0] });
    const sup = (size: number) => ({ fontSize: size, fontFamily: FONT, fill: "#222", padding: [0, 0, size, 0] });
    const main = (size: number) => ({ fontSize: size, fontFamily: FONT, fill: "#222" });

    const rotText = (x: number, y: number, text: string, rich: any) => ({
      type: "text", x, y, rotation: Math.PI / 2, silent: true,
      style: { text, rich, fontSize: 16, fontFamily: FONT, fill: "#222", align: "center", verticalAlign: "middle" },
    });

    const legendColors = [BLUE, MAGENTA, PURPLE, RED];
    const legendRich: any = { k: { fontSize: 18.5, fontFamily: FONT, fill: "#222" } };
    let legendText = "";
    shotLabels.forEach((s, i) => {
      legendRich["c" + i] = { fontSize: 18.5, fontFamily: FONT, fill: legendColors[i] };
      legendText += `{c${i}|${s}}` + (i < shotLabels.length - 1 ? "{k|, }" : "");
    });

    const graphic: any[] = [
      { type: "text", right: 13, top: 3, silent: true,
        style: { text: legendText, rich: legendRich, fontSize: 18.5, fontFamily: FONT } },
      rotText(25, 82, "{a|Γ}{s|T}", { a: main(18), s: sub(11) }),
      rotText(54, 112, "{a|10}{p|23}", { a: main(15), p: sup(10) }),
      rotText(54, 62, "{a|el/s}", { a: main(16) }),
      rotText(25, 190, "{a|P}{s|rad}", { a: main(17), s: sub(11) }),
      rotText(52, 185, "{a|(MW)}", { a: main(16) }),
      rotText(33, 289, "{a|T}{s|e,0}", { a: main(17), s: sub(11) }),
      rotText(51, 284, "{a|(keV)}", { a: main(16) }),
      rotText(21, 365, "{a|<ne.dl>}{s|core}", { a: main(15), s: sub(9) }),
      rotText(47, 376, "{a|(10}{p|20}{a|m}{p|-2}{a|)}", { a: main(16), p: sup(11) }),
      rotText(24, 463, "{a|W}{s|p}", { a: main(17), s: sub(11) }),
      rotText(51, 475, "{a|(MJ)}", { a: main(16) }),
      { type: "text", x: 388, y: 556, silent: true,
        style: { text: "Time (s)", fontSize: 17, fontFamily: FONT, fill: "#222", align: "center", verticalAlign: "middle" } },
    ];

    chart.setOption({
      animation: false,
      backgroundColor: "#ffffff",
      grid, xAxis, yAxis, series, graphic,
    });

    return () => chart.dispose();
  }, []);

  return (
    <div
      ref={ref}
      style={{ position: "fixed", left: 0, top: 0, width: 635, height: 570, background: "#fff" }}
    />
  );
}
